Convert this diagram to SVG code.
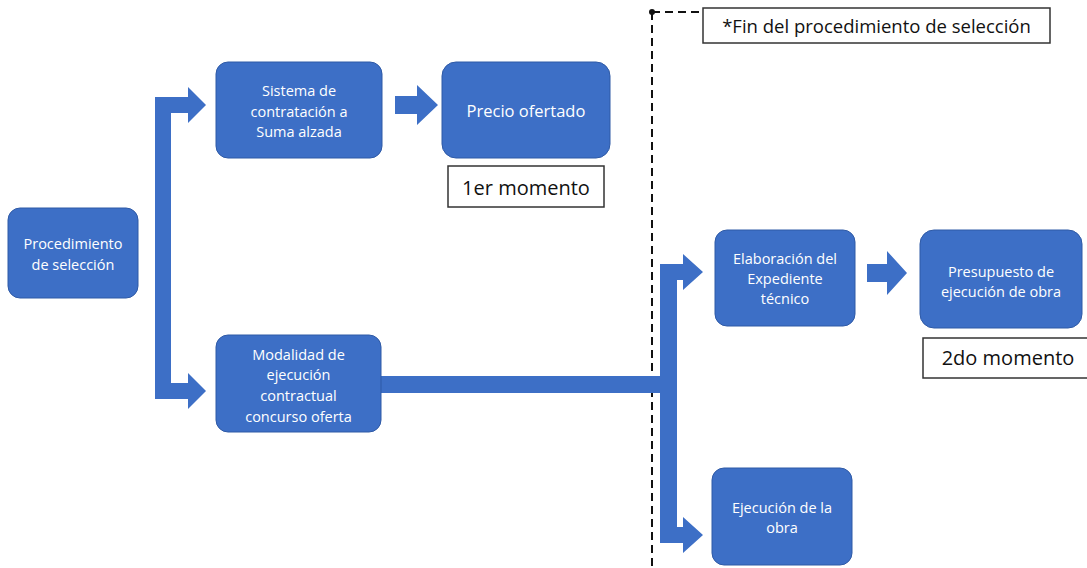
<svg xmlns="http://www.w3.org/2000/svg" width="1087" height="568" viewBox="0 0 1087 568">
<style>
.node{fill:#3d6fc6;stroke:#2f5aa6;stroke-width:1}
.nt{fill:#ffffff;font-family:"Open Sans","Liberation Sans",sans-serif;font-size:14.5px;text-anchor:middle;dominant-baseline:central}
.conn{fill:#3d6fc6}
.lbl{fill:#ffffff;stroke:#333333;stroke-width:1.5}
.lt{fill:#111111;font-family:"Open Sans","Liberation Sans",sans-serif;text-anchor:middle;dominant-baseline:central}
.dash{stroke:#111111;stroke-width:2;stroke-dasharray:8 5;fill:none}
</style>
<rect width="1087" height="568" fill="#ffffff"/>
<g id="divider">
<line class="dash" x1="652" y1="12" x2="652" y2="568"/>
<line class="dash" x1="652" y1="12" x2="703" y2="12"/>
<circle cx="652" cy="12" r="3" fill="#111111"/>
</g>
<g id="connectors">
<path class="conn" d="M206,105 L188,87 L188,97 L155,97 L155,399 L188,399 L188,409 L206,391 L188,373 L188,383 L171,383 L171,113 L188,113 L188,123 Z"/>
<path class="conn" d="M395,96 L417,96 L417,85 L438,105 L417,125 L417,114 L395,114 Z"/>
<rect class="conn" x="381" y="376" width="287" height="17"/>
<path class="conn" d="M660,264 L683,264 L683,254 L703,272 L683,290 L683,280 L677,280 L677,527 L683,527 L683,517 L703,535 L683,553 L683,543 L660,543 Z"/>
<path class="conn" d="M867,264 L887,264 L887,251 L907,273 L887,295 L887,282 L867,282 Z"/>
</g>
<g id="n-procedimiento">
<rect class="node" x="8" y="208" width="130" height="90" rx="12"/>
<text class="nt" x="73" y="243">Procedimiento</text>
<text class="nt" x="73" y="264">de selección</text>
</g>
<g id="n-sistema">
<rect class="node" x="216" y="62" width="166" height="96" rx="12"/>
<text class="nt" x="299" y="90">Sistema de</text>
<text class="nt" x="299" y="111">contratación a</text>
<text class="nt" x="299" y="131">Suma alzada</text>
</g>
<g id="n-precio">
<rect class="node" x="442" y="62" width="168" height="96" rx="14"/>
<text class="nt" x="526" y="110" style="font-size:16.5px">Precio ofertado</text>
</g>
<g id="l-1er">
<rect class="lbl" x="448" y="166" width="156" height="41"/>
<text class="lt" x="526" y="187" style="font-size:20px">1er momento</text>
</g>
<g id="n-modalidad">
<rect class="node" x="216" y="335" width="165" height="97" rx="12"/>
<text class="nt" x="298.5" y="354">Modalidad de</text>
<text class="nt" x="298.5" y="374">ejecución</text>
<text class="nt" x="298.5" y="395">contractual</text>
<text class="nt" x="298.5" y="416">concurso oferta</text>
</g>
<g id="l-fin">
<rect class="lbl" x="703" y="8" width="347" height="35"/>
<text class="lt" x="876.5" y="25.5" style="font-size:18.5px">*Fin del procedimiento de selección</text>
</g>
<g id="n-elaboracion">
<rect class="node" x="715" y="230" width="140" height="96" rx="12"/>
<text class="nt" x="785" y="258">Elaboración del</text>
<text class="nt" x="785" y="278">Expediente</text>
<text class="nt" x="785" y="298">técnico</text>
</g>
<g id="n-presupuesto">
<rect class="node" x="920" y="230" width="162" height="98" rx="14"/>
<text class="nt" x="1001" y="271">Presupuesto de</text>
<text class="nt" x="1001" y="291">ejecución de obra</text>
</g>
<g id="l-2do">
<rect class="lbl" x="923" y="338" width="170" height="40"/>
<text class="lt" x="1008" y="357" style="font-size:20px">2do momento</text>
</g>
<g id="n-ejecucion">
<rect class="node" x="712" y="468" width="140" height="97" rx="12"/>
<text class="nt" x="782" y="507">Ejecución de la</text>
<text class="nt" x="782" y="527">obra</text>
</g>
</svg>
